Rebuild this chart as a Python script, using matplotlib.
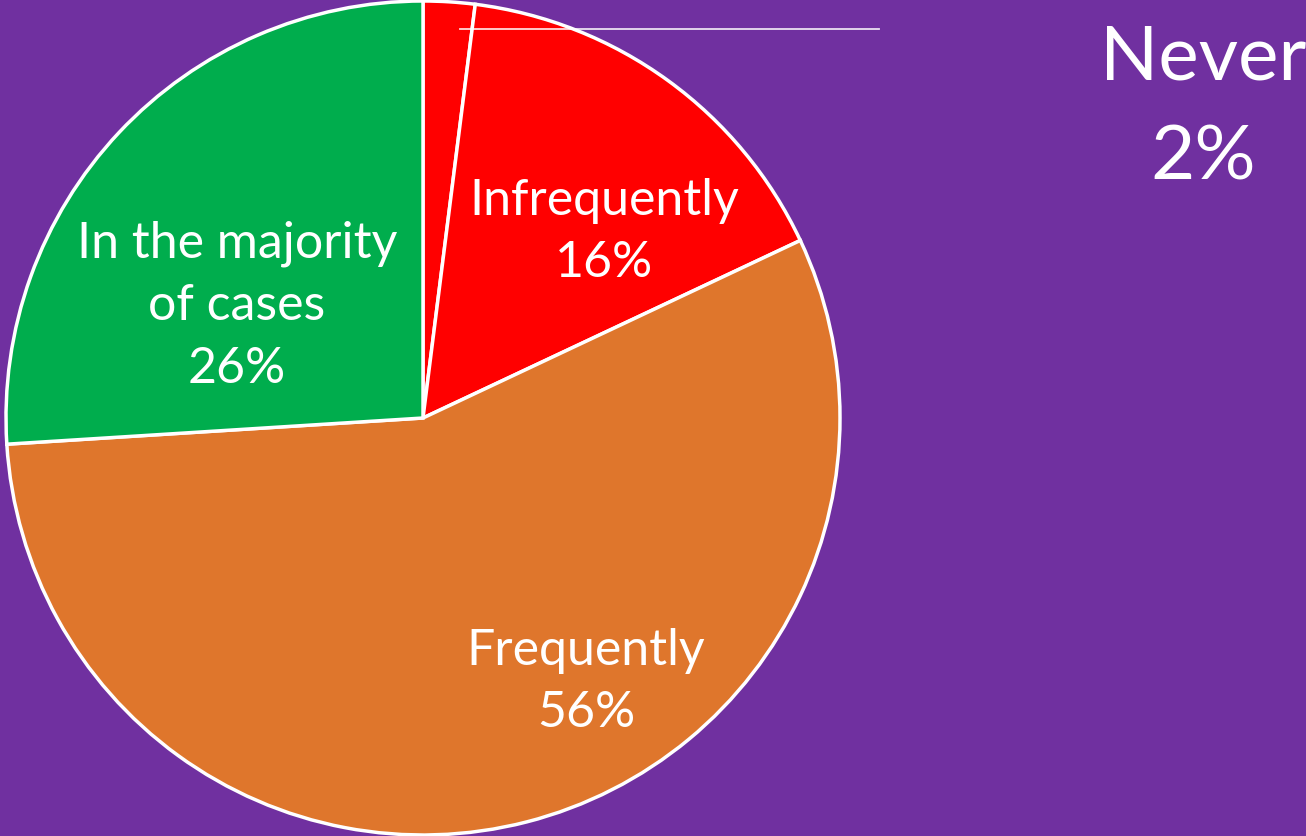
import matplotlib
matplotlib.use('Agg')
import matplotlib.pyplot as plt

# data
labels = ['Never', 'Infrequently', 'Frequently', 'In the majority\nof cases']
shares = [2, 16, 56, 26]
colors = ['#FF0000', '#FF0000', '#DF762C', '#00AD4D']
bg = '#7030A0'

plt.rcParams['font.family'] = ['Lato', 'DejaVu Sans']

W, H = 1306, 836
fig = plt.figure(figsize=(W / 100, H / 100), dpi=100, facecolor=bg)
ax = fig.add_axes([0, 0, 1, 1])
ax.set_facecolor(bg)

# pie in pixel coordinates (origin bottom-left)
cx, cy, r = 423, H - 418, 417
wedges, _ = ax.pie(shares, colors=colors, startangle=90, counterclock=False,
                   center=(cx, cy), radius=r,
                   wedgeprops=dict(edgecolor='white', linewidth=2.5))
ax.set_xlim(0, W)
ax.set_ylim(0, H)
ax.set_aspect('equal')
ax.axis('off')

# labels inside the slices (positions measured from the top)
lab_pos = {1: (604, 232), 2: (586, 682), 3: (237, 306)}
for i, (x, y) in lab_pos.items():
    ax.text(x, H - y, f'{labels[i]}\n{shares[i]}%', color='white', fontsize=36,
            ha='center', va='center', linespacing=1.44)

# leader line and the big label for the small slice
ax.plot([460, 879], [H - 29, H - 29], color='white', lw=1.3, alpha=0.85)
ax.text(1203, H - 108, f'{labels[0]}\n{shares[0]}%', color='white', fontsize=55,
        ha='center', va='center', linespacing=1.56)

fig.savefig('out.png', dpi=100, facecolor=bg)
